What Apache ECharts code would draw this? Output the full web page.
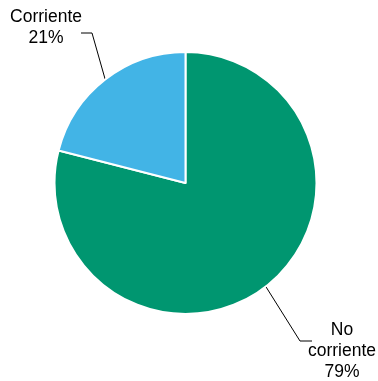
<!DOCTYPE html>
<html>
<head>
<meta charset="utf-8">
<script src="https://cdn.jsdelivr.net/npm/echarts@6/dist/echarts.min.js"></script>
<style>
  html, body { margin: 0; padding: 0; background: #fff; }
  #chart { width: 378px; height: 381px; }
</style>
</head>
<body>
<div id="chart"></div>
<script>
// datos
var categorias = ['No\ncorriente', 'Corriente'];
var valores = [79, 21];
var colores = ['#009670', '#42b4e6'];
// donde van las etiquetas (centro del texto) y el codo de la linea
var posEtiquetas = [[342, 351], [46, 28]];
var codos = [[[300, 341], [312, 341]], [[92, 33], [81, 33]]];

var myChart = echarts.init(document.getElementById('chart'));

var datos = categorias.map(function (c, i) {
  return { name: c, value: valores[i], itemStyle: { color: colores[i] } };
});

option = {
  animation: false,
  series: [{
    type: 'pie',
    center: [185.5, 183],
    radius: 131,
    startAngle: 90,
    clockwise: true,
    data: datos,
    itemStyle: { borderColor: '#fff', borderWidth: 2 },
    label: {
      show: true,
      formatter: function (p) { return p.name + '\n' + p.value + '%'; },
      fontFamily: 'Liberation Sans, Arial, sans-serif',
      fontSize: 17.5,
      lineHeight: 21,
      color: '#000',
      align: 'center',
      overflow: 'none'
    },
    labelLine: {
      show: true,
      length: 20,
      length2: 10,
      lineStyle: { color: '#000', width: 1 }
    },
    labelLayout: function (p) {
      var i = p.dataIndex;
      var ini = p.labelLinePoints ? p.labelLinePoints[0] : null;
      var res = {
        x: posEtiquetas[i][0],
        y: posEtiquetas[i][1],
        align: 'center',
        verticalAlign: 'middle'
      };
      if (ini) {
        res.labelLinePoints = [ini, codos[i][0], codos[i][1]];
      }
      return res;
    },
    emphasis: { disabled: true }
  }]
};

myChart.setOption(option);
</script>
</body>
</html>
